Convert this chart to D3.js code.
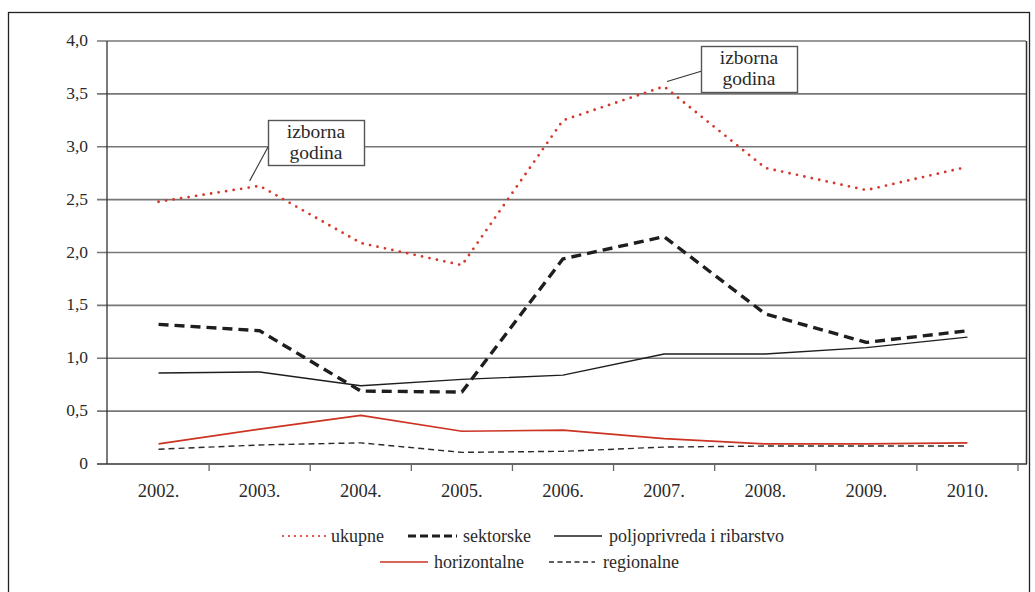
<!DOCTYPE html>
<html><head><meta charset="utf-8">
<script src="https://cdn.jsdelivr.net/npm/d3@7"></script>
</head><body style="margin:0;background:#fff">
<script>
const years = ["2002.","2003.","2004.","2005.","2006.","2007.","2008.","2009.","2010."];
const yTicks = [0,0.5,1,1.5,2,2.5,3,3.5,4];
const yTickLabels = ["0","0,5","1,0","1,5","2,0","2,5","3,0","3,5","4,0"];
const ukupne = [2.48,2.63,2.09,1.88,3.25,3.57,2.80,2.59,2.81];
const sektorske = [1.32,1.26,0.69,0.68,1.94,2.15,1.42,1.15,1.26];
const poljoprivreda = [0.86,0.87,0.74,0.80,0.84,1.04,1.04,1.10,1.20];
const horizontalne = [0.19,0.33,0.46,0.31,0.32,0.24,0.19,0.19,0.20];
const regionalne = [0.14,0.18,0.20,0.11,0.12,0.16,0.17,0.17,0.17];
const seriesNames = ["ukupne","sektorske","poljoprivreda i ribarstvo","horizontalne","regionalne"];
const annotationText = ["izborna","godina"];
const annotationYears = ["2003.","2007."];

const FONT='"Liberation Serif"';
const W=1035,H=592;
const svg=d3.select("body").append("svg").attr("width",W).attr("height",H).style("display","block");
svg.append("rect").attr("x",8.5).attr("y",12.5).attr("width",1021).attr("height",600)
  .attr("fill","none").attr("stroke","#222").attr("stroke-width",1.3);

const x=d3.scaleBand().domain(years).range([108,1018]);
const y=d3.scaleLinear().domain([0,4]).range([464,41]);
const xc=d=>x(d)+x.bandwidth()/2;
const T=g=>g.style("font-family",FONT).attr("fill","#2a2a2a");

svg.append("g").selectAll("line").data(yTicks.filter(d=>d>0)).join("line")
  .attr("x1",97).attr("x2",1026).attr("y1",d=>y(d)).attr("y2",d=>y(d))
  .attr("stroke","#777").attr("stroke-width",1.6);
svg.append("line").attr("x1",107).attr("x2",107).attr("y1",y(4)).attr("y2",y(0)).attr("stroke","#333").attr("stroke-width",1.3);
svg.append("line").attr("x1",1026.5).attr("x2",1026.5).attr("y1",y(4)).attr("y2",y(0)).attr("stroke","#333").attr("stroke-width",1.5);
svg.append("line").attr("x1",97).attr("x2",1027).attr("y1",y(0)).attr("y2",y(0)).attr("stroke","#333").attr("stroke-width",1.5);
svg.append("g").selectAll("line").data(years).join("line")
  .attr("x1",d=>x(d)+x.step()).attr("x2",d=>x(d)+x.step())
  .attr("y1",y(0)).attr("y2",y(0)+7).attr("stroke","#666").attr("stroke-width",1.3);
svg.append("g").selectAll("text").data(years).join("text").call(T)
  .attr("x",d=>xc(d)).attr("y",497).attr("text-anchor","middle").attr("font-size",18.5).text(d=>d);
svg.append("g").selectAll("text").data(yTicks).join("text").call(T)
  .attr("x",88).attr("y",d=>y(d)+5).attr("text-anchor","end").attr("font-size",17.5)
  .text((d,i)=>yTickLabels[i]);

const styles=[
  {data:ukupne,color:"#d4382a",w:2.8,dash:"0,7.6",cap:"round"},
  {data:sektorske,color:"#1e1e1e",w:3.4,dash:"10,6",cap:"butt"},
  {data:poljoprivreda,color:"#1e1e1e",w:1.4,dash:null,cap:"butt"},
  {data:horizontalne,color:"#cc3322",w:1.6,dash:null,cap:"butt"},
  {data:regionalne,color:"#2a2a2a",w:1.4,dash:"6,4",cap:"butt"}
];
const line=d3.line().x((d,i)=>xc(years[i])).y(d=>y(d));
styles.slice().reverse().forEach(s=>{
  svg.append("path").datum(s.data).attr("d",line).attr("fill","none")
    .attr("stroke",s.color).attr("stroke-width",s.w).attr("stroke-linecap",s.cap)
    .attr("stroke-dasharray",s.dash).attr("stroke-linejoin","round");
});

const boxes=[{yr:annotationYears[0],bx:268,by:120,bw:96,bh:45,lx:268,ly:147,dx:-10},
             {yr:annotationYears[1],bx:701,by:46,bw:96,bh:46,lx:702,ly:71,dx:3}];
boxes.forEach(b=>{
  const px=xc(b.yr), py=y(ukupne[years.indexOf(b.yr)]);
  svg.append("line").attr("x1",b.lx).attr("y1",b.ly).attr("x2",px+b.dx).attr("y2",py-5)
    .attr("stroke","#333").attr("stroke-width",1.1);
  svg.append("rect").attr("x",b.bx+0.5).attr("y",b.by+0.5).attr("width",b.bw).attr("height",b.bh)
    .attr("fill","#fff").attr("stroke","#555").attr("stroke-width",1.4);
  annotationText.forEach((t,j)=>svg.append("text").call(T).attr("x",b.bx+b.bw/2).attr("y",b.by+18+j*21)
    .attr("text-anchor","middle").attr("font-size",19.5).text(t));
});

const leg=[{i:0,x1:283,x2:326,tx:331,y:536},{i:1,x1:408,x2:457,tx:463,y:536},{i:2,x1:554,x2:602,tx:609,y:536},
           {i:3,x1:380,x2:428,tx:434,y:562},{i:4,x1:549,x2:595,tx:603,y:562}];
leg.forEach(l=>{
  const s=styles[l.i];
  svg.append("line").attr("x1",l.x1).attr("x2",l.x2).attr("y1",l.y).attr("y2",l.y)
    .attr("stroke",s.color).attr("stroke-width",l.i===0?2.2:(l.i===1?3:1.4)).attr("stroke-linecap",s.cap)
    .attr("stroke-dasharray",l.i===0?"0,6":(l.i===1?"8,4":(l.i===4?"5,3.5":null)));
  svg.append("text").call(T).attr("x",l.tx).attr("y",l.y+6).attr("font-size",18).text(seriesNames[l.i]);
});
</script>
</body></html>
